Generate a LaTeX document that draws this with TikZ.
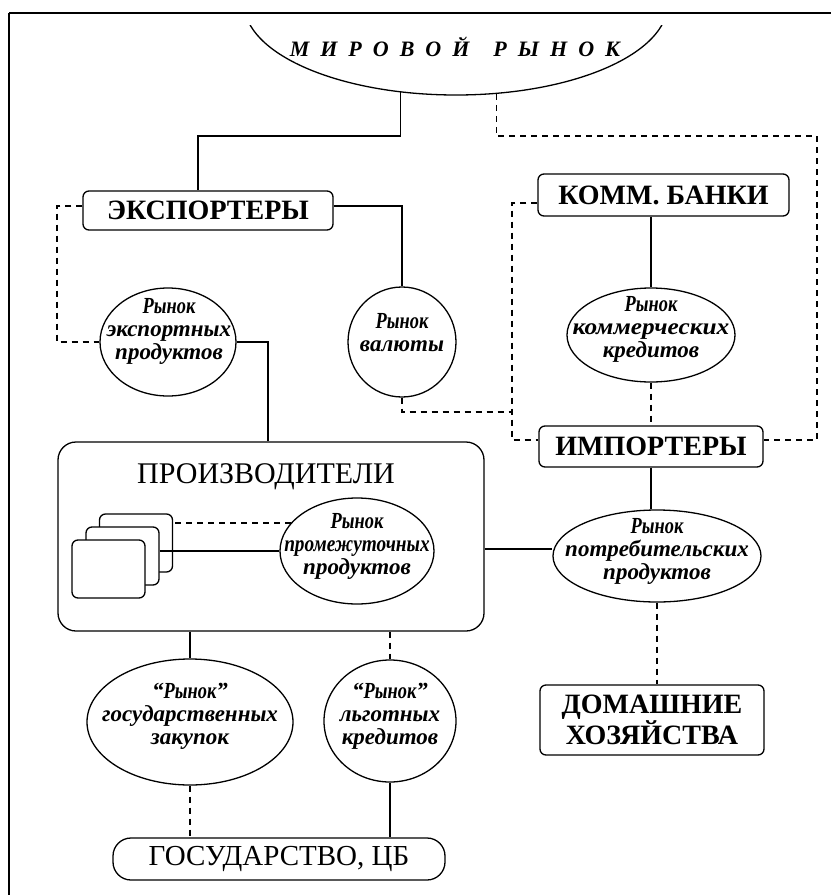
\documentclass[tikz,border=0pt]{standalone}
\usepackage{fontspec}
\setmainfont{Liberation Serif}
\usepackage{graphicx}
\usetikzlibrary{shapes.geometric}
\newcommand\lsp{\hspace{11pt}}
\newcommand\rnk{\scalebox{0.8}[1]{Рынок}}
\tikzset{
 ln/.style={line width=1.3pt},
 dsh/.style={line width=1.3pt, dash pattern=on 6pt off 5pt},
 box/.style={draw, line width=1.3pt, rounded corners=6pt, inner sep=0pt, align=center,
   font=\bfseries\fontsize{28}{26}\selectfont},
 mkt/.style={draw, ellipse, line width=1.3pt, inner sep=0pt},
 mtxt/.style={inner sep=0pt, align=center, font=\bfseries\itshape\fontsize{23}{23}\selectfont},
 firm/.style={draw, fill=white, line width=1.3pt, rounded corners=6pt, minimum width=73, minimum height=58},
}
\begin{document}
\begin{tikzpicture}[x=1pt,y=-1pt]
\useasboundingbox (0,0) rectangle (831,895);
% frame
\draw[line width=2.6pt] (9,13) -- (831,13);
\draw[line width=1.3pt] (9,13) -- (9,895);
% world market
\begin{scope}
\clip (0,25) rectangle (831,140);
\node[mkt, minimum width=424, minimum height=184] (wm) at (456,3) {};
\end{scope}
\node[font=\bfseries\itshape\fontsize{22}{22}\selectfont, inner sep=0pt] (wmt) at (455,47)
  {М\lsp И\lsp Р\lsp О\lsp В\lsp О\lsp Й\hspace{24pt}Р\lsp Ы\lsp Н\lsp О\lsp К};
% boxes
\node[box, minimum width=250, minimum height=39] (eksp) at (208,210.5) {ЭКСПОРТЕРЫ};
\node[box, minimum width=251, minimum height=42] (komm) at (663.5,195) {КОММ. БАНКИ};
\node[box, minimum width=224, minimum height=41] (imp) at (651,446.5) {ИМПОРТЕРЫ};
\node[box, minimum width=224, minimum height=70] (dom) at (652,720) {ДОМАШНИЕ\\ХОЗЯЙСТВА};
\node[box, rounded corners=18pt, minimum width=332, minimum height=42, font=\fontsize{29}{29}\selectfont] (gosb) at (279,859) {ГОСУДАРСТВО, ЦБ};
% producers
\node[draw, line width=1.3pt, rounded corners=18pt, minimum width=426, minimum height=189] (prod) at (271,536.5) {};
\node[inner sep=0pt, font=\fontsize{30}{30}\selectfont] (prodt) at (266,477) {ПРОИЗВОДИТЕЛИ};
\node[firm] (r3) at (136,543) {};
\node[firm] (r2) at (122.5,556) {};
\node[firm] (r1) at (108.5,569) {};
% markets
\node[mkt, minimum width=136, minimum height=108] (exp) at (168,342) {};
\node[mtxt] (expt) at (169,331) {\rnk\\экспортных\\продуктов};
\node[mkt, minimum width=108, minimum height=110] (val) at (402,342) {};
\node[mtxt] (valt) at (402,333) {\rnk\\валюты};
\node[mkt, minimum width=168, minimum height=94] (kom) at (651,335) {};
\node[mtxt] (komt) at (651,329) {\rnk\\\scalebox{1.1}[1]{коммерческих}\\кредитов};
\node[mkt, minimum width=154, minimum height=106] (prom) at (357,551) {};
\node[mtxt] (promt) at (357,546) {\rnk\\\scalebox{0.84}[1]{промежуточных}\\продуктов};
\node[mkt, minimum width=208, minimum height=92] (potr) at (657,556) {};
\node[mtxt] (potrt) at (657,551) {\rnk\\потребительских\\продуктов};
\node[mkt, minimum width=206, minimum height=126] (gos) at (190,722) {};
\node[mtxt] (gost) at (190,716) {“\rnk”\\государственных\\закупок};
\node[mkt, minimum width=132, minimum height=122] (lgot) at (390,721) {};
\node[mtxt] (lgott) at (390,716) {“\rnk”\\льготных\\кредитов};
% corner coordinates
\coordinate (cA) at (198,136);
\coordinate (cB) at (817,136);
\coordinate (cC) at (57,206);
\coordinate (cD) at (57,342);
\coordinate (cE) at (402,206);
\coordinate (cF) at (268,342);
\coordinate (cH) at (512,412);
\coordinate (cI) at (512,203);
\coordinate (cJ) at (512,440);
\coordinate (cL) at (484,549);
% connectors
\draw[ln] (wm.238.75) |- (cA) -- (cA |- eksp.north);
\draw[dsh] (wm.294.5) |- (cB) |- (imp.east |- cJ);
\draw[dsh] (eksp.west |- cC) -- (cC) -- (cD) -- (exp.west);
\draw[ln] (eksp.east |- cE) -- (cE) -- (val.north);
\draw[ln] (exp.east) -- (cF) -- (cF |- prod.north);
\draw[dsh] (val.south) |- (cH);
\draw[dsh] (komm.west |- cI) -- (cI) -- (cJ) -- (imp.west |- cJ);
\draw[ln] (kom.north |- komm.south) -- (kom.north);
\draw[dsh] (kom.south) -- (imp.north -| kom.south);
\draw[ln] (imp.south) -- (potr.north -| imp.south);
\draw[ln] (prod.east |- cL) -- (cL -| potr.west);
\draw[dsh] (potr.south) -- (dom.north -| potr.south);
\draw[dsh] (prom.157.8) -- (prom.157.8 -| r3.east);
\draw[ln] (prom.west -| r2.east) -- (prom.west);
\draw[ln] (gos.north |- prod.south) -- (gos.north);
\draw[dsh] (lgot.north |- prod.south) -- (lgot.north);
\draw[dsh] (gos.south) -- (gos.south |- gosb.north);
\draw[ln] (lgot.south) -- (lgot.south |- gosb.north);
\end{tikzpicture}
\end{document}
